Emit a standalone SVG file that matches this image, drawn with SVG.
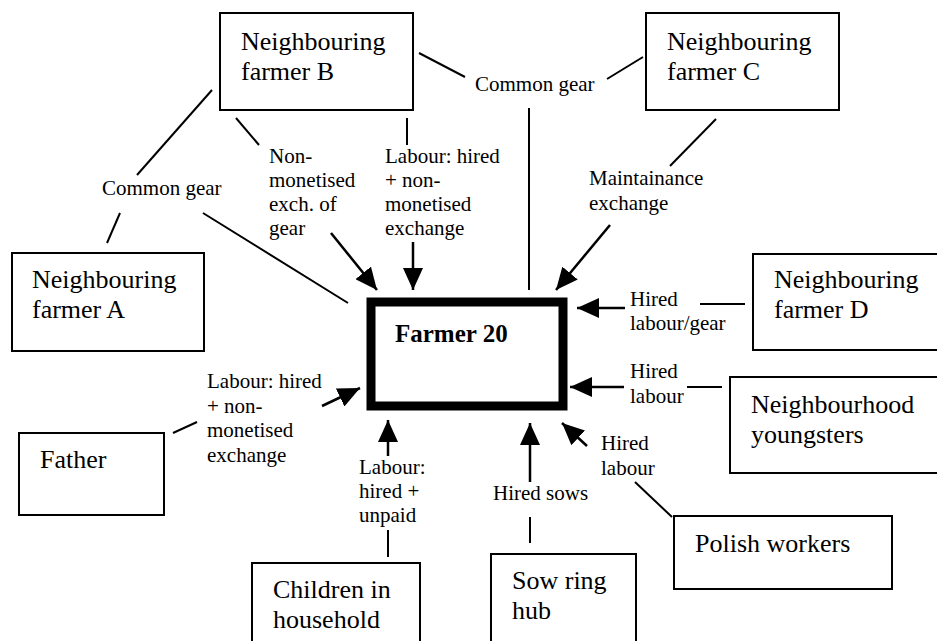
<svg xmlns="http://www.w3.org/2000/svg" width="937" height="641" viewBox="0 0 937 641">
<defs>
<marker id="ah" markerUnits="userSpaceOnUse" markerWidth="22" markerHeight="20" refX="22" refY="10" orient="auto">
<path d="M0,0 L22,10 L0,20 z" fill="#000"/>
</marker>
</defs>
<style>
.box{fill:#fff;stroke:#000;stroke-width:2}
.main{fill:#fff;stroke:#000;stroke-width:9}
.nt{font-family:"Liberation Serif","Times New Roman",serif;font-size:26px;fill:#000}
.mt{font-family:"Liberation Serif","Times New Roman",serif;font-size:25px;font-weight:bold;fill:#000}
.lt{font-family:"Liberation Serif","Times New Roman",serif;font-size:21px;fill:#000}
.ln{stroke:#000;stroke-width:2;fill:none}
.ar{stroke:#000;stroke-width:2.5;fill:none;marker-end:url(#ah)}
</style>
<rect width="937" height="641" fill="#fff"/>
<g id="connectors">
<line class="ln" x1="212" y1="90" x2="137" y2="175"/>
<line class="ln" x1="120" y1="213" x2="107" y2="243"/>
<line class="ln" x1="203" y1="213" x2="348" y2="303"/>
<line class="ln" x1="236" y1="118" x2="259" y2="145"/>
<line class="ar" x1="331" y1="233" x2="377" y2="290"/>
<line class="ln" x1="407" y1="118" x2="407" y2="145"/>
<line class="ar" x1="413" y1="242" x2="413" y2="290"/>
<line class="ln" x1="419" y1="53" x2="465" y2="77"/>
<line class="ln" x1="607" y1="79" x2="643" y2="57"/>
<line class="ln" x1="529" y1="108" x2="529" y2="290"/>
<line class="ln" x1="716" y1="119" x2="670" y2="166"/>
<line class="ar" x1="610" y1="225" x2="556" y2="290"/>
<line class="ln" x1="700" y1="304" x2="745" y2="304"/>
<line class="ar" x1="625" y1="308" x2="577" y2="308"/>
<line class="ln" x1="687" y1="387" x2="722" y2="387"/>
<line class="ar" x1="624" y1="387" x2="570" y2="387"/>
<line class="ln" x1="672" y1="517" x2="635" y2="482"/>
<line class="ar" x1="587" y1="446" x2="562" y2="423"/>
<line class="ln" x1="530" y1="543" x2="530" y2="517"/>
<line class="ar" x1="530" y1="482" x2="530" y2="423"/>
<line class="ln" x1="388" y1="557" x2="388" y2="530"/>
<line class="ar" x1="388" y1="456" x2="388" y2="420"/>
<line class="ln" x1="173" y1="433" x2="197" y2="422"/>
<line class="ar" x1="322" y1="406" x2="360" y2="388"/>
<text class="lt" x="102" y="195">Common gear</text>
<text class="lt" x="269" y="163">Non-</text>
<text class="lt" x="269" y="187">monetised</text>
<text class="lt" x="269" y="211">exch. of</text>
<text class="lt" x="269" y="235">gear</text>
<text class="lt" x="385" y="163">Labour: hired</text>
<text class="lt" x="385" y="187">+ non-</text>
<text class="lt" x="385" y="211">monetised</text>
<text class="lt" x="385" y="235">exchange</text>
<text class="lt" x="475" y="91">Common gear</text>
<text class="lt" x="589" y="185">Maintainance</text>
<text class="lt" x="589" y="210">exchange</text>
<text class="lt" x="630" y="306">Hired</text>
<text class="lt" x="630" y="330">labour/gear</text>
<text class="lt" x="630" y="378">Hired</text>
<text class="lt" x="630" y="403">labour</text>
<text class="lt" x="601" y="450">Hired</text>
<text class="lt" x="601" y="475">labour</text>
<text class="lt" x="493" y="500">Hired sows</text>
<text class="lt" x="359" y="474">Labour:</text>
<text class="lt" x="359" y="498">hired +</text>
<text class="lt" x="359" y="522">unpaid</text>
<text class="lt" x="207" y="388">Labour: hired</text>
<text class="lt" x="207" y="413">+ non-</text>
<text class="lt" x="207" y="437">monetised</text>
<text class="lt" x="207" y="462">exchange</text>
</g>
<g id="farmer20">
<rect class="main" x="371" y="302" width="192" height="104"/>
<text class="mt" x="395" y="342">Farmer 20</text>
</g>
<g id="farmerB">
<rect class="box" x="220" y="13" width="193" height="97"/>
<text class="nt" x="241" y="50">Neighbouring</text>
<text class="nt" x="241" y="80">farmer B</text>
</g>
<g id="farmerC">
<rect class="box" x="646" y="13" width="193" height="97"/>
<text class="nt" x="667" y="50">Neighbouring</text>
<text class="nt" x="667" y="80">farmer C</text>
</g>
<g id="farmerA">
<rect class="box" x="12" y="253" width="192" height="98"/>
<text class="nt" x="32" y="288">Neighbouring</text>
<text class="nt" x="32" y="318">farmer A</text>
</g>
<g id="farmerD">
<rect class="box" x="753" y="254" width="200" height="96"/>
<text class="nt" x="774" y="288">Neighbouring</text>
<text class="nt" x="774" y="318">farmer D</text>
</g>
<g id="youngsters">
<rect class="box" x="730" y="377" width="220" height="96"/>
<text class="nt" x="751" y="413">Neighbourhood</text>
<text class="nt" x="751" y="443">youngsters</text>
</g>
<g id="father">
<rect class="box" x="19" y="433" width="145" height="82"/>
<text class="nt" x="40" y="468">Father</text>
</g>
<g id="children">
<rect class="box" x="252" y="563" width="168" height="90"/>
<text class="nt" x="273" y="598">Children in</text>
<text class="nt" x="273" y="628">household</text>
</g>
<g id="sowring">
<rect class="box" x="491" y="554" width="145" height="100"/>
<text class="nt" x="512" y="589">Sow ring</text>
<text class="nt" x="512" y="619">hub</text>
</g>
<g id="polish">
<rect class="box" x="674" y="516" width="218" height="73"/>
<text class="nt" x="695" y="552">Polish workers</text>
</g>
</svg>
